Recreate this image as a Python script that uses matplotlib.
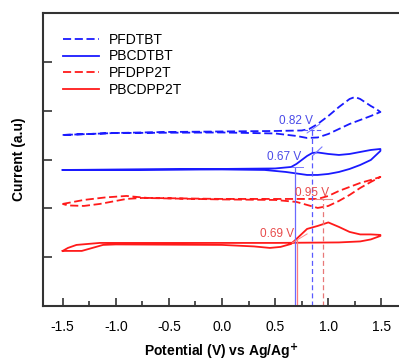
import matplotlib
matplotlib.use("Agg")
import matplotlib.pyplot as plt

plt.rcParams['font.family'] = ['Liberation Sans', 'DejaVu Sans']

# ---- data (potential in V, current in arbitrary units) ----
pfdtbt_fwd_v = [-1.5, -1.0, -0.5, 0.0, 0.5, 0.75, 0.82, 0.9, 1.0, 1.1, 1.2, 1.25, 1.3, 1.4, 1.45, 1.49]
pfdtbt_fwd_i = [171, 173, 174, 174.5, 175, 175.5, 177, 182, 190, 199, 207, 209, 207, 200, 197, 194]
pfdtbt_bwd_v = [1.49, 1.4, 1.3, 1.2, 1.1, 1.0, 0.9, 0.8, 0.7, 0.5, 0.0, -1.0, -1.5]
pfdtbt_bwd_i = [194, 190, 186, 182, 177, 172, 168.5, 168, 170, 172.5, 173.5, 173, 171]

pbcdtbt_fwd_v = [-1.5, 0.0, 0.5, 0.65, 0.7, 0.75, 0.8, 0.85, 0.9, 1.0, 1.1, 1.2, 1.3, 1.4, 1.49]
pbcdtbt_fwd_i = [136, 137, 137.5, 139, 142, 146, 150, 153, 153.5, 152, 151, 152, 154, 156, 157]
pbcdtbt_bwd_v = [1.49, 1.4, 1.3, 1.2, 1.1, 1.0, 0.9, 0.8, 0.6, 0.4, 0.0, -1.5]
pbcdtbt_bwd_i = [155, 146, 141, 137, 134, 132, 131, 131, 134, 136, 136.5, 136]

pfdpp2t_fwd_v = [-1.5, -1.3, -1.1, -0.9, -0.8, -0.7, 0.0, 0.5, 0.9, 1.0, 1.1, 1.2, 1.3, 1.4, 1.49]
pfdpp2t_fwd_i = [102, 106, 108.5, 110, 109, 108, 107, 107, 107, 110, 115, 119, 123, 126, 129]
pfdpp2t_bwd_v = [1.49, 1.4, 1.3, 1.2, 1.1, 1.0, 0.9, 0.8, 0.7, 0.5, 0.0, -0.75, -0.9, -1.05, -1.15, -1.3, -1.45, -1.5]
pfdpp2t_bwd_i = [129, 124, 118, 111, 105, 100, 98, 101, 104, 106, 106.5, 108, 107, 104, 102, 100, 100.5, 102]

pbcdpp2t_fwd_v = [-1.5, -1.32, -1.22, -1.12, -1.0, 0.0, 0.3, 0.45, 0.55, 0.65, 0.7, 0.8, 0.9, 1.0, 1.1, 1.2, 1.3, 1.4, 1.49]
pbcdpp2t_fwd_i = [55, 55, 58, 61, 61.5, 61, 59.5, 58, 59, 62, 67, 77, 80, 83.5, 79, 74, 71.5, 71.5, 71]
pbcdpp2t_bwd_v = [1.49, 1.4, 1.3, 1.1, 0.5, -1.0, -1.15, -1.37, -1.45, -1.5]
pbcdpp2t_bwd_i = [70, 66.5, 64.5, 63.5, 63, 63, 63, 61, 58, 55]

# onset markers: (position of drawn line, top of line, label, label x, label y)
onset_line_v = [0.85, 0.69, 0.95, 0.705]
onset_line_top = [176, 138, 107, 66]
onset_labels = ["0.82 V", "0.67 V", "0.95 V", "0.69 V"]
onset_label_v = [0.70, 0.58, 0.85, 0.52]
onset_label_i = [185, 149, 113, 72]

x_ticks = [-1.5, -1.0, -0.5, 0.0, 0.5, 1.0, 1.5]
y_ticks = [49, 98, 146, 195, 244]

blue = "#1a1aff"
red = "#ff1a1a"

fig = plt.figure(figsize=(3.99, 3.62), dpi=100)
ax = fig.add_axes([0.108, 0.155, 0.892, 0.809])

lw = 1.3
dash = (4.5, 2.0)
l1, = ax.plot(pfdtbt_fwd_v + pfdtbt_bwd_v, pfdtbt_fwd_i + pfdtbt_bwd_i, color=blue, lw=lw,
              ls=(0, dash), label="PFDTBT")
l2, = ax.plot(pbcdtbt_fwd_v + pbcdtbt_bwd_v, pbcdtbt_fwd_i + pbcdtbt_bwd_i, color=blue, lw=lw,
              label="PBCDTBT")
l3, = ax.plot(pfdpp2t_fwd_v + pfdpp2t_bwd_v, pfdpp2t_fwd_i + pfdpp2t_bwd_i, color=red, lw=lw,
              ls=(0, dash), label="PFDPP2T")
l4, = ax.plot(pbcdpp2t_fwd_v + pbcdpp2t_bwd_v, pbcdpp2t_fwd_i + pbcdpp2t_bwd_i, color=red, lw=lw,
              label="PBCDPP2T")

vcolors = ["#5a5aff", "#6a6aff", "#e87878", "#ff7a7a"]
vstyles = [(0, (4, 2.5)), '-', (0, (4, 2.5)), '-']
tcolors = ["#4a4ae8", "#4a4ae8", "#e84a4a", "#e84a4a"]
for v, top, lab, lv, li, c, s, tc in zip(onset_line_v, onset_line_top, onset_labels,
                                         onset_label_v, onset_label_i, vcolors, vstyles, tcolors):
    ax.plot([v, v], [0, top], color=c, lw=0.9, ls=s)
    ax.text(lv, li, lab, color=tc, fontsize=8.5, ha='center', va='center')

# short tangent construction lines
ax.plot([0.76, 0.93], [176, 176], color="#5a5aff", lw=0.8, ls=(0, (4, 2)))
ax.plot([0.80, 0.92], [173, 182], color="#7a7aff", lw=0.7)
ax.plot([0.86, 0.94], [151, 159], color="#7a7aff", lw=0.8)
ax.plot([0.66, 0.76], [139, 139], color="#7a7aff", lw=0.7)
ax.plot([0.87, 1.03], [107, 107], color="#e88888", lw=0.8)
ax.plot([0.66, 0.80], [63, 72], color="#ff8a8a", lw=0.7)

ax.set_xlim(-1.684, 1.665)
ax.set_ylim(0, 293)
ax.set_xticks(x_ticks)
ax.set_xticklabels(["-1.5", "-1.0", "-0.5", "0.0", "0.5", "1.0", "1.5"])
ax.set_xticks([-1.25, -0.75, -0.25, 0.25, 0.75, 1.25], minor=True)
ax.set_yticks(y_ticks)
ax.set_yticklabels([])
ax.tick_params(axis='x', which='major', direction='in', length=6, width=1.2,
               labelsize=10, pad=10, colors='#333333', labelcolor='black')
ax.tick_params(axis='x', which='minor', direction='in', length=3.5, width=1.2, colors='#333333')
ax.tick_params(axis='y', which='major', direction='in', length=6.5, width=1.2, colors='#333333')
for sp in ['left', 'bottom', 'top']:
    ax.spines[sp].set_linewidth(1.5)
    ax.spines[sp].set_color('#333333')
ax.spines['right'].set_visible(False)

ax.set_xlabel("Potential (V) vs Ag/Ag$^{\\mathbf{+}}$", fontsize=10, fontweight='bold', labelpad=6)
ax.set_ylabel("Current (a.u)", fontsize=10, fontweight='bold', labelpad=9)

leg = ax.legend(handles=[l1, l2, l3, l4], loc='upper left', bbox_to_anchor=(0.04, 0.952),
                frameon=False, fontsize=10, handlelength=2.6, handletextpad=0.7,
                labelspacing=0.2, borderaxespad=0)

fig.savefig("out.png", dpi=100)
